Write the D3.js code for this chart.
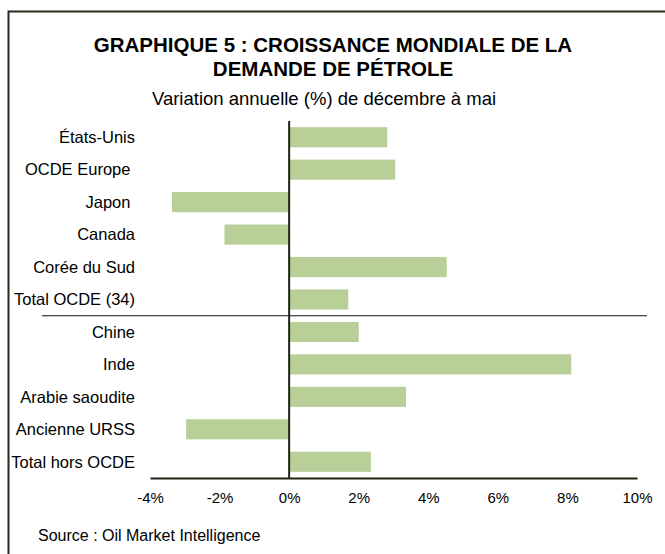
<!DOCTYPE html>
<html>
<head>
<meta charset="utf-8">
<script src="https://cdn.jsdelivr.net/npm/d3@7"></script>
<style>
  body { margin: 0; background: #fff; }
  svg text { font-family: "Liberation Sans", Arial, sans-serif; fill: #000; white-space: pre; }
</style>
</head>
<body>
<div id="chart"></div>
<script>
// categories and values (% change, Dec to May)
const countries = ["États-Unis", "OCDE Europe ", "Japon ", "Canada", "Corée du Sud", "Total OCDE (34)",
                   "Chine", "Inde", "Arabie saoudite", "Ancienne URSS", "Total hors OCDE"];
const growth = [2.82, 3.05, -3.37, -1.86, 4.53, 1.70, 2.0, 8.11, 3.36, -2.96, 2.35];
const xTicks = [-4, -2, 0, 2, 4, 6, 8, 10];

const width = 665;
const height = 554;

const svg = d3.select("#chart")
  .append("svg")
  .attr("width", width)
  .attr("height", height);

// frame
svg.append("rect")
  .attr("x", 8.5)
  .attr("y", 11.5)
  .attr("width", 700)
  .attr("height", 600)
  .attr("fill", "none")
  .attr("stroke", "#262d1c")
  .attr("stroke-width", 2);

// titles
svg.append("text")
  .attr("x", 333).attr("y", 52)
  .attr("text-anchor", "middle")
  .attr("font-size", 20.5).attr("font-weight", "bold")
  .text("GRAPHIQUE 5 : CROISSANCE MONDIALE DE LA");
svg.append("text")
  .attr("x", 333).attr("y", 75.5)
  .attr("text-anchor", "middle")
  .attr("font-size", 20.5).attr("font-weight", "bold")
  .text("DEMANDE DE PÉTROLE");
svg.append("text")
  .attr("x", 324).attr("y", 105)
  .attr("text-anchor", "middle")
  .attr("font-size", 18.5)
  .text("Variation annuelle (%) de décembre à mai");

// scales
const x = d3.scaleLinear().domain([-4, 10]).range([150, 637]);
const y = d3.scaleBand().domain(countries).range([121, 478]).paddingInner(0.38).paddingOuter(0.19);

// bars
svg.selectAll("rect.bar")
  .data(countries)
  .enter()
  .append("rect")
    .attr("class", "bar")
    .attr("x", (d, i) => x(Math.min(0, growth[i])))
    .attr("y", d => y(d))
    .attr("width", (d, i) => Math.abs(x(growth[i]) - x(0)))
    .attr("height", y.bandwidth())
    .attr("fill", "#b9cf98");

// category labels
svg.selectAll("text.cat")
  .data(countries)
  .enter()
  .append("text")
    .attr("class", "cat")
    .attr("x", 135)
    .attr("y", d => y(d) + y.bandwidth() / 2)
    .attr("dy", "0.35em")
    .attr("text-anchor", "end")
    .attr("font-size", 16.5)
    .text(d => d);

// divider between OCDE and non-OCDE
const step = y.step();
const yDiv = y("Chine") - (step - y.bandwidth()) / 2;
svg.append("line")
  .attr("x1", 42).attr("x2", 647)
  .attr("y1", yDiv).attr("y2", yDiv)
  .attr("stroke", "#111").attr("stroke-width", 1.2);

// zero line
svg.append("line")
  .attr("x1", x(0)).attr("x2", x(0))
  .attr("y1", 121).attr("y2", 478)
  .attr("stroke", "#1e2414").attr("stroke-width", 2);

// x axis
const xAxis = d3.axisBottom(x)
  .tickValues(xTicks)
  .tickSize(0)
  .tickPadding(14)
  .tickFormat(d => d + "%");

const gx = svg.append("g")
  .attr("transform", "translate(0,478)")
  .call(xAxis);
gx.select(".domain").attr("stroke", "#1e2414").attr("stroke-width", 2);
gx.selectAll("text").attr("font-size", 15).attr("font-family", "Liberation Sans, Arial, sans-serif").attr("fill", "#000");

// source
svg.append("text")
  .attr("x", 38).attr("y", 541)
  .attr("font-size", 16)
  .text("Source : Oil Market Intelligence");
</script>
</body>
</html>
